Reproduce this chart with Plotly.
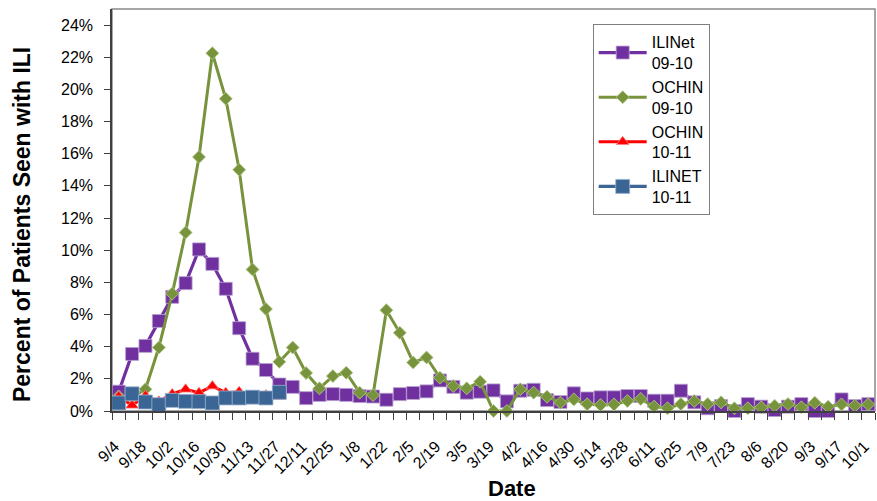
import plotly.graph_objects as go

# Week labels (every week, 9/4 .. 10/1)
dates = ["9/4", "9/11", "9/18", "9/25", "10/2", "10/9", "10/16", "10/23", "10/30", "11/6",
         "11/13", "11/20", "11/27", "12/4", "12/11", "12/18", "12/25", "1/1", "1/8", "1/15",
         "1/22", "1/29", "2/5", "2/12", "2/19", "2/26", "3/5", "3/12", "3/19", "3/26",
         "4/2", "4/9", "4/16", "4/23", "4/30", "5/7", "5/14", "5/21", "5/28", "6/4",
         "6/11", "6/18", "6/25", "7/2", "7/9", "7/16", "7/23", "7/30", "8/6", "8/13",
         "8/20", "8/27", "9/3", "9/10", "9/17", "9/24", "10/1"]

ilinet_0910 = [1.2, 3.55, 4.05, 5.6, 7.1, 7.95, 10.05, 9.15, 7.6, 5.15,
               3.25, 2.55, 1.65, 1.5, 0.8, 1.0, 1.05, 1.0, 0.93, 0.9,
               0.7, 1.05, 1.12, 1.22, 1.9, 1.5, 1.14, 1.2, 1.28, 0.6,
               1.26, 1.32, 0.68, 0.56, 1.1, 0.78, 0.85, 0.85, 0.93, 0.93,
               0.64, 0.64, 1.26, 0.54, 0.17, 0.31, 0.0, 0.43, 0.27, 0.06,
               0.27, 0.43, 0.0, 0.0, 0.72, 0.31, 0.43]

ochin_0910 = [0.9, 0.85, 1.35, 3.95, 7.3, 11.1, 15.8, 22.25, 19.42, 15.0,
              8.8, 6.34, 3.06, 3.95, 2.36, 1.41, 2.17, 2.38, 1.14, 0.99,
              6.27, 4.86, 3.02, 3.33, 2.07, 1.55, 1.41, 1.82, 0.0, 0.0,
              1.35, 1.14, 0.89, 0.52, 0.72, 0.42, 0.37, 0.41, 0.62, 0.75,
              0.27, 0.17, 0.43, 0.62, 0.43, 0.54, 0.17, 0.17, 0.23, 0.33,
              0.43, 0.23, 0.52, 0.27, 0.41, 0.33, 0.41]

ochin_1011 = [0.9, 0.35, 0.95, 0.6, 1.06, 1.35, 1.14, 1.55, 1.14, 1.2,
              0.75, 0.99, 0.9]

ilinet_1011 = [0.5, 1.07, 0.56, 0.39, 0.66, 0.6, 0.58, 0.5, 0.81, 0.81,
               0.86, 0.81, 1.16]

series_names = ["ILINet<br>09-10", "OCHIN<br>09-10", "OCHIN<br>10-11", "ILINET<br>10-11"]
y_ticks = [0, 0.02, 0.04, 0.06, 0.08, 0.10, 0.12, 0.14, 0.16, 0.18, 0.20, 0.22, 0.24]

FONT = "Arial, Liberation Sans, sans-serif"
xs = list(range(len(dates)))

fig = go.Figure()

def add(vals, name, color, symbol, size, lw, outline):
    fig.add_trace(go.Scatter(
        x=xs[:len(vals)], y=[v / 100 for v in vals], name=name,
        mode="lines+markers", cliponaxis=False,
        line=dict(color=color, width=lw),
        marker=dict(symbol=symbol, size=size, color=color,
                    line=dict(color=outline, width=0.8)),
    ))

add(ilinet_0910, series_names[0], "#7030A0", "square", 13, 3.2, "#B9A3CF")
add(ochin_0910, series_names[1], "#77933C", "diamond", 10, 3, "#B7CB8E")
add(ochin_1011, series_names[2], "#FF0000", "triangle-up", 11, 3, "#FF8080")
add(ilinet_1011, series_names[3], "#3A6594", "square", 14, 3.2, "#9DB4D0")

n = len(dates)
fig.update_layout(
    width=877, height=501,
    margin=dict(l=112, r=2, t=9, b=90),
    paper_bgcolor="white", plot_bgcolor="white",
    font=dict(family=FONT, color="#000000"),
    showlegend=True,
    legend=dict(
        x=0.630, y=0.962, xanchor="left", yanchor="top",
        bgcolor="white", bordercolor="#7F7F7F", borderwidth=1,
        font=dict(family=FONT, size=16, color="#000000"),
        itemwidth=48, entrywidth=86, entrywidthmode="pixels",
    ),
    xaxis=dict(
        range=[-0.5, n - 0.5], showgrid=False, zeroline=False,
        tickmode="array", tickvals=xs[::2], ticktext=dates[::2],
        tickangle=-45, ticks="", ticklabelstandoff=18, ticklabelshift=-4,
        tickfont=dict(family=FONT, size=16, color="#000000"),
        showline=True, linecolor="#404040", linewidth=1.5,
        minor=dict(tickmode="array", tickvals=[i - 0.5 for i in range(n + 1)],
                   ticks="outside", ticklen=7, tickcolor="#404040", tickwidth=1,
                   showgrid=False),
    ),
    yaxis=dict(
        range=[0, 0.25], showgrid=False, zeroline=False,
        tickmode="array", tickvals=y_ticks, tickformat=".0%",
        ticks="outside", ticklen=6, tickcolor="#404040", ticklabelstandoff=8,
        tickfont=dict(family=FONT, size=16, color="#000000"),
        showline=True, linecolor="#404040", linewidth=1.5,
    ),
    shapes=[dict(type="rect", xref="paper", yref="paper", x0=0, x1=1, y0=0, y1=1,
                 line=dict(color="#898989", width=1.5), layer="below")],
    annotations=[
        dict(text="<b>Percent of Patients Seen with ILI</b>", textangle=-90,
             xref="paper", yref="paper", x=-0.118, y=0.465,
             xanchor="center", yanchor="middle", showarrow=False,
             font=dict(family=FONT, size=23, color="#000000")),
        dict(text="<b>Date</b>", xref="paper", yref="paper", x=0.524, y=-0.192,
             xanchor="center", yanchor="middle", showarrow=False,
             font=dict(family=FONT, size=22, color="#000000")),
    ],
)

fig.write_html("out.html", config={"displayModeBar": False},
               post_script="document.body.style.margin='0';document.body.style.padding='0';")
